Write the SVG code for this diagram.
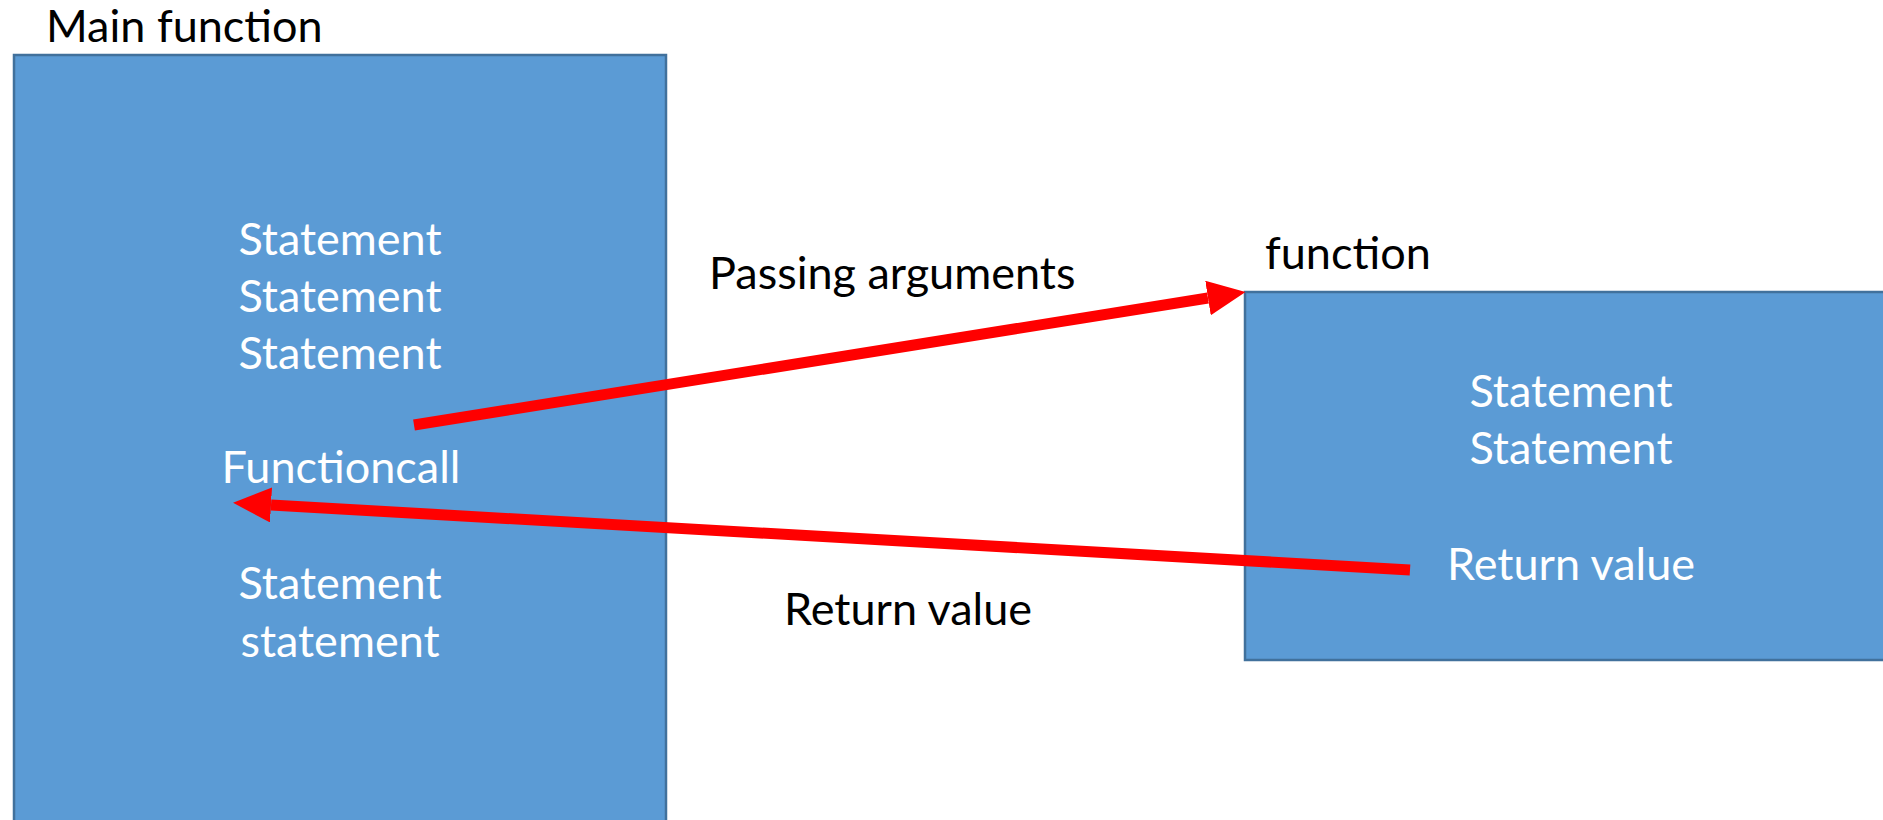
<svg xmlns="http://www.w3.org/2000/svg" width="1883" height="820" viewBox="0 0 1883 820">
  <style>
    .box { fill: #5B9BD5; stroke: #41719C; stroke-width: 2.5; }
    .t { font-family: Lato, "Open Sans", "Liberation Sans", sans-serif; font-size: 45px; }
    .w { fill: #FFFFFF; text-anchor: middle; }
    .b { fill: #000000; }
    .arrow { stroke: #FF0000; stroke-width: 11; fill: none; }
  </style>
  <defs>
    <marker id="head" markerUnits="userSpaceOnUse" viewBox="0 0 38 35" markerWidth="38" markerHeight="35" refX="0" refY="17.5" orient="auto">
      <path d="M0,0 L38,17.5 L0,35 Z" fill="#FF0000"/>
    </marker>
  </defs>

  <g id="main-function">
    <text class="t b" x="46" y="42">Main function</text>
    <rect class="box" x="14" y="55" width="652" height="800"/>
    <text class="t w" x="340" y="255">Statement</text>
    <text class="t w" x="340" y="312">Statement</text>
    <text class="t w" x="340" y="369">Statement</text>
    <text class="t w" x="341" y="483">Functioncall</text>
    <text class="t w" x="340" y="599">Statement</text>
    <text class="t w" x="340" y="657">statement</text>
  </g>

  <g id="function">
    <text class="t b" x="1265" y="269">function</text>
    <rect class="box" x="1245" y="292" width="660" height="368"/>
    <text class="t w" x="1571" y="407">Statement</text>
    <text class="t w" x="1571" y="464">Statement</text>
    <text class="t w" x="1571" y="580">Return value</text>
  </g>

  <g id="connectors">
    <line class="arrow" x1="414" y1="425" x2="1208" y2="298" marker-end="url(#head)"/>
    <text class="t b" x="709" y="289">Passing arguments</text>
    <line class="arrow" x1="1410" y1="570" x2="271" y2="505" marker-end="url(#head)"/>
    <text class="t b" x="784" y="625">Return value</text>
  </g>
</svg>
